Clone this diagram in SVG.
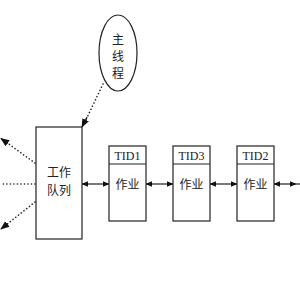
<svg xmlns="http://www.w3.org/2000/svg" width="300" height="300" viewBox="0 0 300 300">
<style>
.box{fill:#fff;stroke:#222;stroke-width:1.2}
.cjk{font-family:"Noto Sans CJK SC","Noto Sans CJK JP",sans-serif;font-size:12px;fill:#222;text-anchor:middle}
.tid{font-family:"Liberation Serif",serif;font-size:12px;fill:#222;text-anchor:middle}
.dot{fill:none;stroke:#222;stroke-width:1.6;stroke-linecap:round;stroke-dasharray:0.1 3.4}
.solid{fill:none;stroke:#222;stroke-width:1.2}
</style>
<defs>
<marker id="ah" viewBox="0 0 10 10" refX="9" refY="5" markerWidth="7" markerHeight="7" markerUnits="userSpaceOnUse" orient="auto-start-reverse">
<path d="M0,1 L10,5 L0,9 z" fill="#111"/>
</marker>
<marker id="big" viewBox="0 0 10 10" refX="9" refY="5" markerWidth="9" markerHeight="9" markerUnits="userSpaceOnUse" orient="auto">
<path d="M0,1 L10,5 L0,9 z" fill="#111"/>
</marker>
</defs>
<g id="connectors">
<line class="dot" x1="103" y1="84" x2="84" y2="124"/>
<line class="solid" x1="87" y1="117" x2="82" y2="127" stroke-width="0" marker-end="url(#big)"/>
<line class="dot" x1="35" y1="163" x2="6" y2="142"/>
<line class="solid" x1="8" y1="143.5" x2="1" y2="138.5" stroke-width="0" marker-end="url(#big)"/>
<line class="dot" x1="35" y1="184" x2="1" y2="184"/>
<line class="dot" x1="35" y1="202" x2="6" y2="225"/>
<line class="solid" x1="8" y1="223.5" x2="1" y2="229" stroke-width="0" marker-end="url(#big)"/>
<line class="solid" x1="82" y1="184" x2="109" y2="184" marker-start="url(#ah)" marker-end="url(#ah)"/>
<line class="solid" x1="146" y1="184" x2="173" y2="184" marker-start="url(#ah)" marker-end="url(#ah)"/>
<line class="solid" x1="210" y1="184" x2="237" y2="184" marker-start="url(#ah)" marker-end="url(#ah)"/>
<line class="solid" x1="274" y1="184" x2="296" y2="184" marker-start="url(#ah)" marker-end="url(#ah)"/>
<line class="solid" x1="296" y1="184" x2="300" y2="184"/>
</g>
<g id="main-thread">
<ellipse class="box" cx="118" cy="53" rx="19" ry="38"/>
<text class="cjk" x="118" y="44">主</text>
<text class="cjk" x="118" y="61">线</text>
<text class="cjk" x="118" y="78">程</text>
</g>
<g id="work-queue">
<rect class="box" x="36" y="127" width="46" height="112"/>
<text class="cjk" x="59" y="177">工作</text>
<text class="cjk" x="59" y="194.5">队列</text>
</g>
<g id="tid1">
<rect class="box" x="109" y="146" width="37" height="75"/>
<line class="solid" x1="109" y1="164" x2="146" y2="164"/>
<text class="tid" x="127.5" y="159.5">TID1</text>
<text class="cjk" x="127.5" y="189">作业</text>
</g>
<g id="tid3">
<rect class="box" x="173" y="146" width="37" height="75"/>
<line class="solid" x1="173" y1="164" x2="210" y2="164"/>
<text class="tid" x="191.5" y="159.5">TID3</text>
<text class="cjk" x="191.5" y="189">作业</text>
</g>
<g id="tid2">
<rect class="box" x="237" y="146" width="37" height="75"/>
<line class="solid" x1="237" y1="164" x2="274" y2="164"/>
<text class="tid" x="255.5" y="159.5">TID2</text>
<text class="cjk" x="255.5" y="189">作业</text>
</g>
</svg>
